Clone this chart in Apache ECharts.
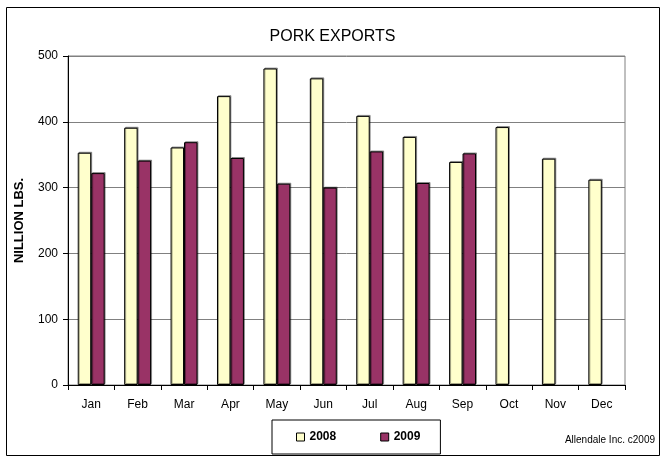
<!DOCTYPE html>
<html>
<head>
<meta charset="utf-8">
<script src="https://cdn.jsdelivr.net/npm/echarts@6/dist/echarts.min.js"></script>
<style>
  html, body { margin: 0; padding: 0; background: #fff; }
  #chart { width: 665px; height: 458px; }
</style>
</head>
<body>
<div id="chart"></div>
<script>
var months = ['Jan', 'Feb', 'Mar', 'Apr', 'May', 'Jun', 'Jul', 'Aug', 'Sep', 'Oct', 'Nov', 'Dec'];
var exports2008 = [353, 391, 361, 439, 481, 466, 409, 377, 339, 392, 344, 312];
var exports2009 = [322, 341, 369, 345, 306, 300, 355, 307, 352, null, null, null];
var yTicks = [0, 100, 200, 300, 400, 500];

var font = 'Liberation Sans, Arial, sans-serif';
var myChart = echarts.init(document.getElementById('chart'));

var option = {
    animation: false,
    title: {
        text: 'PORK EXPORTS',
        left: 'center',
        top: 24,
        textStyle: { fontFamily: font, fontSize: 16, fontWeight: 'normal', color: '#000' }
    },
    legend: {
        data: ['2008', '2009'],
        left: 272,
        top: 420,
        padding: [11, 20, 11, 24],
        itemGap: 44,
        itemWidth: 8,
        itemHeight: 8,
        icon: 'rect',
        borderColor: '#000',
        borderWidth: 1,
        itemStyle: { borderColor: '#000', borderWidth: 1 },
        textStyle: { fontFamily: font, fontSize: 12, fontWeight: 'bold', color: '#000' }
    },
    graphic: [
        {
            type: 'rect',
            shape: { x: 6.5, y: 7.5, width: 653, height: 448 },
            style: { fill: null, stroke: '#000', lineWidth: 1 },
            silent: true
        },
        {
            type: 'text',
            right: 10,
            top: 435,
            style: { text: 'Allendale Inc. c2009', fontFamily: font, fontSize: 10, fill: '#000' }
        }
    ],
    grid: {
        left: 68,
        right: 40,
        top: 56,
        bottom: 73,
        show: true,
        borderColor: '#808080',
        borderWidth: 1
    },
    xAxis: {
        type: 'category',
        data: months,
        axisLine: { lineStyle: { color: '#000', width: 1 } },
        axisTick: { show: true, length: 5, lineStyle: { color: '#000' } },
        axisLabel: { margin: 14, fontFamily: font, fontSize: 12, color: '#000' }
    },
    yAxis: {
        type: 'value',
        min: yTicks[0],
        max: yTicks[yTicks.length - 1],
        interval: 100,
        name: 'NILLION LBS.',
        nameLocation: 'middle',
        nameRotate: 90,
        nameGap: 42,
        nameTextStyle: { fontFamily: font, fontSize: 13, fontWeight: 'bold', color: '#000' },
        axisLine: { show: true, lineStyle: { color: '#000', width: 1 } },
        axisTick: { show: true, length: 5, lineStyle: { color: '#000' } },
        axisLabel: { margin: 10, fontFamily: font, fontSize: 12, color: '#000' },
        splitLine: { lineStyle: { color: '#808080', width: 1 } }
    },
    series: [
        {
            name: '2008',
            type: 'bar',
            data: exports2008,
            barGap: '0%',
            barCategoryGap: '42%',
            itemStyle: {
                color: '#FFFFCC',
                borderColor: '#000',
                borderWidth: 1,
                shadowColor: 'rgba(0,0,0,0.35)',
                shadowOffsetX: 1,
                shadowOffsetY: -1
            }
        },
        {
            name: '2009',
            type: 'bar',
            data: exports2009,
            itemStyle: {
                color: '#993366',
                borderColor: '#000',
                borderWidth: 1,
                shadowColor: 'rgba(0,0,0,0.35)',
                shadowOffsetX: 1,
                shadowOffsetY: -1
            }
        }
    ]
};

myChart.setOption(option);
</script>
</body>
</html>
